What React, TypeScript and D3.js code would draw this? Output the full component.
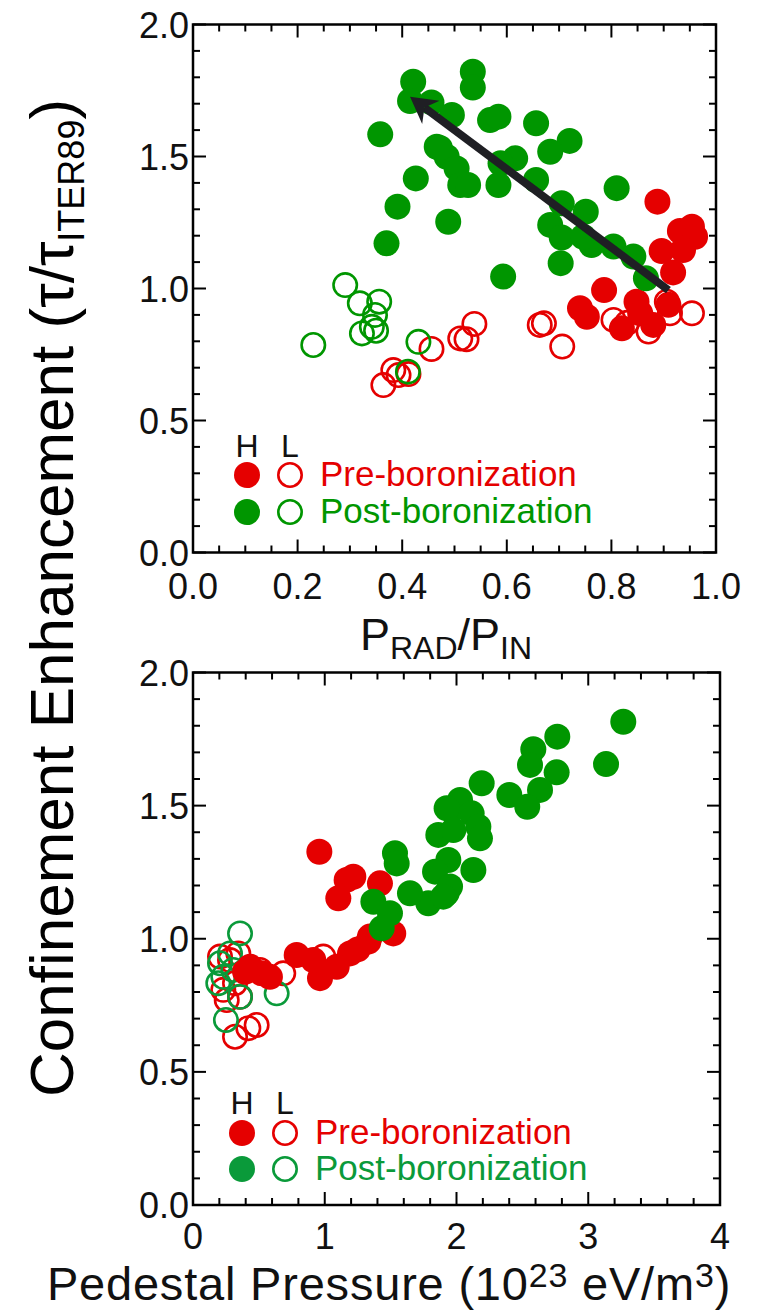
import React from "react";
import * as d3 from "d3";

// ---------- data ----------
// Top panel: x = P_RAD/P_IN, y = tau/tau_ITER89
const topPreH: [number, number][] = [
  [0.888, 1.329], [0.931, 1.218], [0.954, 1.234], [0.96, 1.196], [0.896, 1.142],
  [0.937, 1.146], [0.918, 1.061], [0.786, 0.994], [0.74, 0.925], [0.753, 0.893],
  [0.848, 0.95], [0.82, 0.849], [0.88, 0.862], [0.909, 0.938], [0.855, 0.906],
];
const topPreL: [number, number][] = [
  [0.511, 0.811], [0.523, 0.808], [0.538, 0.866], [0.671, 0.868], [0.663, 0.862],
  [0.706, 0.78], [0.804, 0.881], [0.871, 0.837], [0.912, 0.906], [0.954, 0.906],
  [0.906, 0.95], [0.456, 0.771], [0.364, 0.634], [0.383, 0.691], [0.393, 0.672],
  [0.412, 0.676], [0.83, 0.87],
];
const topPostH: [number, number][] = [
  [0.421, 1.783], [0.415, 1.71], [0.456, 1.705], [0.495, 1.657], [0.358, 1.584],
  [0.466, 1.537], [0.485, 1.499], [0.504, 1.455], [0.511, 1.392], [0.426, 1.417],
  [0.391, 1.31], [0.488, 1.253], [0.37, 1.171], [0.535, 1.821], [0.535, 1.761],
  [0.568, 1.638], [0.584, 1.651], [0.656, 1.626], [0.72, 1.559], [0.683, 1.518],
  [0.616, 1.493], [0.588, 1.474], [0.472, 1.532], [0.526, 1.392], [0.584, 1.392],
  [0.656, 1.411], [0.593, 1.045], [0.81, 1.38], [0.705, 1.323], [0.751, 1.291],
  [0.683, 1.241], [0.705, 1.193], [0.762, 1.165], [0.804, 1.159], [0.842, 1.121],
  [0.746, 1.196], [0.703, 1.096], [0.866, 1.039],
];
const topPostL: [number, number][] = [
  [0.291, 1.013], [0.23, 0.786], [0.319, 0.944], [0.356, 0.95], [0.348, 0.9],
  [0.342, 0.855], [0.323, 0.83], [0.35, 0.84], [0.431, 0.798], [0.411, 0.685],
];
const arrowFrom: [number, number] = [0.909, 0.994];
const arrowTo: [number, number] = [0.415, 1.726];

// Bottom panel: x = pedestal pressure (1e23 eV/m^3), y = tau/tau_ITER89
const botPreH: [number, number][] = [
  [0.959, 1.327], [1.166, 1.221], [1.217, 1.233], [1.103, 1.152], [1.419, 1.208],
  [1.343, 1.008], [1.52, 1.02], [1.331, 0.989], [1.192, 0.945], [1.091, 0.895],
  [0.964, 0.852], [0.913, 0.92], [0.787, 0.939], [0.584, 0.857], [0.521, 0.87],
  [0.433, 0.895], [0.395, 0.876], [1.25, 0.96],
];
const botPreL: [number, number][] = [
  [0.989, 0.933], [0.685, 0.87], [0.483, 0.676], [0.42, 0.664], [0.319, 0.632],
  [0.256, 0.77], [0.23, 0.808], [0.281, 0.92], [0.344, 0.945], [0.205, 0.933],
  [0.319, 0.833], [0.357, 0.782], [0.509, 0.883],
];
const botPostH: [number, number][] = [
  [2.001, 1.496], [1.862, 1.39], [1.938, 1.296], [1.837, 1.252], [1.925, 1.171],
  [1.786, 1.133], [1.647, 1.171], [1.533, 1.321], [1.546, 1.283], [1.369, 1.139],
  [1.495, 1.096], [1.432, 1.039], [3.266, 1.815], [3.135, 1.656], [2.765, 1.759],
  [2.583, 1.712], [2.558, 1.653], [2.76, 1.625], [2.634, 1.559], [2.401, 1.54],
  [2.537, 1.496], [2.191, 1.584], [2.027, 1.521], [2.115, 1.471], [1.925, 1.49],
  [2.166, 1.421], [2.178, 1.377], [1.976, 1.408], [2.128, 1.258], [1.951, 1.196],
  [1.9, 1.158],
];
const botPostL: [number, number][] = [
  [0.357, 1.02], [0.281, 0.945], [0.205, 0.908], [0.23, 0.857], [0.192, 0.833],
  [0.357, 0.782], [0.635, 0.795], [0.25, 0.695], [0.306, 0.883],
];

const yTickLabels = ["0.0", "0.5", "1.0", "1.5", "2.0"];
const topXTickLabels = ["0.0", "0.2", "0.4", "0.6", "0.8", "1.0"];
const botXTickLabels = ["0", "1", "2", "3", "4"];
const legendLabels = ["Pre-boronization", "Post-boronization"];

// ---------- style ----------
const RED = "#e50000";
const GREEN = "#009600";
const GREEN2 = "#0a9a3a";
const FONT = "'Liberation Sans', Arial, Helvetica, sans-serif";
const R = 13;

type Panel = {
  x0: number; x1: number; yTop: number; yBot: number;
  xDomain: [number, number]; xMajor: number; xMinor: number;
  xLabels: string[]; xLabelOffset: number;
};

function Frame({ p, xs, ys }: { p: Panel; xs: d3.ScaleLinear<number, number>; ys: d3.ScaleLinear<number, number> }) {
  const ticks: JSX.Element[] = [];
  const nX = Math.round((p.xDomain[1] - p.xDomain[0]) / p.xMinor);
  const ratio = Math.round(p.xMajor / p.xMinor);
  for (let i = 0; i <= nX; i++) {
    const v = p.xDomain[0] + i * p.xMinor;
    const L = i % ratio === 0 ? 13 : 7;
    const x = xs(v);
    ticks.push(<line key={"xb" + i} x1={x} x2={x} y1={p.yBot} y2={p.yBot - L} />);
    ticks.push(<line key={"xt" + i} x1={x} x2={x} y1={p.yTop} y2={p.yTop + L} />);
  }
  for (let i = 0; i <= 20; i++) {
    const v = i * 0.1;
    const L = i % 5 === 0 ? 13 : 7;
    const y = ys(v);
    ticks.push(<line key={"yl" + i} x1={p.x0} x2={p.x0 + L} y1={y} y2={y} />);
    ticks.push(<line key={"yr" + i} x1={p.x1} x2={p.x1 - L} y1={y} y2={y} />);
  }
  return (
    <g>
      <g stroke="#000" strokeWidth={2}>{ticks}</g>
      <rect x={p.x0} y={p.yTop} width={p.x1 - p.x0} height={p.yBot - p.yTop} fill="none" stroke="#000" strokeWidth={2.5} />
      <g fontFamily={FONT} fontSize={36} fill="#111">
        {yTickLabels.map((t, i) => (
          <text key={t} x={p.x0 - 4} y={ys(i * 0.5) + 13} textAnchor="end">{t}</text>
        ))}
        {p.xLabels.map((t, i) => (
          <text key={t} x={xs(p.xDomain[0] + i * p.xMajor)} y={p.yBot + p.xLabelOffset} textAnchor="middle">{t}</text>
        ))}
      </g>
    </g>
  );
}

function Dots({ data, xs, ys, color, filled }: { data: [number, number][]; xs: any; ys: any; color: string; filled: boolean }) {
  return (
    <g>
      {data.map((d, i) =>
        filled ? (
          <circle key={i} cx={xs(d[0])} cy={ys(d[1])} r={R} fill={color} />
        ) : (
          <circle key={i} cx={xs(d[0])} cy={ys(d[1])} r={R - 1.3} fill="none" stroke={color} strokeWidth={2.6} />
        )
      )}
    </g>
  );
}

function Legend({ x, yH, y1, y2, green }: { x: number; yH: number; y1: number; y2: number; green: string }) {
  return (
    <g fontFamily={FONT} fontSize={35}>
      <text x={x} y={yH} textAnchor="middle" fill="#111" fontSize={32}>H</text>
      <text x={x + 43} y={yH} textAnchor="middle" fill="#111" fontSize={32}>L</text>
      <circle cx={x} cy={y1} r={R} fill={RED} />
      <circle cx={x + 43} cy={y1} r={R - 1.3} fill="none" stroke={RED} strokeWidth={2.6} />
      <circle cx={x} cy={y2} r={R} fill={green} />
      <circle cx={x + 43} cy={y2} r={R - 1.3} fill="none" stroke={green} strokeWidth={2.6} />
      <text x={x + 73} y={y1 + 11} fill={RED}>{legendLabels[0]}</text>
      <text x={x + 73} y={y2 + 11} fill={green}>{legendLabels[1]}</text>
    </g>
  );
}

export default function App() {
  const top: Panel = {
    x0: 193, x1: 716, yTop: 24.5, yBot: 552.5,
    xDomain: [0, 1], xMajor: 0.2, xMinor: 0.05, xLabels: topXTickLabels, xLabelOffset: 46,
  };
  const bot: Panel = {
    x0: 193, x1: 720, yTop: 672.5, yBot: 1205,
    xDomain: [0, 4], xMajor: 1, xMinor: 0.2, xLabels: botXTickLabels, xLabelOffset: 44,
  };
  const xsT = d3.scaleLinear().domain(top.xDomain).range([top.x0, top.x1]);
  const ysT = d3.scaleLinear().domain([0, 2]).range([top.yBot, top.yTop]);
  const xsB = d3.scaleLinear().domain(bot.xDomain).range([bot.x0, bot.x1]);
  const ysB = d3.scaleLinear().domain([0, 2]).range([bot.yBot, bot.yTop]);

  // arrow
  const ax0 = xsT(arrowFrom[0]), ay0 = ysT(arrowFrom[1]);
  const ax1 = xsT(arrowTo[0]), ay1 = ysT(arrowTo[1]);
  const len = Math.hypot(ax1 - ax0, ay1 - ay0);
  const ux = (ax1 - ax0) / len, uy = (ay1 - ay0) / len;
  const nx = -uy, ny = ux;
  const headL = 26, headW = 14.5, notch = 18;
  const bx = ax1 - ux * headL, by = ay1 - uy * headL;
  const head = [
    [ax1, ay1],
    [bx + nx * headW, by + ny * headW],
    [ax1 - ux * notch, ay1 - uy * notch],
    [bx - nx * headW, by - ny * headW],
  ].map((p) => p.join(",")).join(" ");

  return (
    <svg width={760} height={1312} style={{ position: "absolute", left: 0, top: 0, background: "#fff" }}>
      <rect x={0} y={0} width={760} height={1312} fill="#fff" />
      {/* top panel */}
      <Dots data={topPreL} xs={xsT} ys={ysT} color={RED} filled={false} />
      <Dots data={topPostL} xs={xsT} ys={ysT} color={GREEN} filled={false} />
      <Dots data={topPreH} xs={xsT} ys={ysT} color={RED} filled={true} />
      <Dots data={topPostH} xs={xsT} ys={ysT} color={GREEN} filled={true} />
      <line x1={ax0} y1={ay0} x2={ax1 - ux * notch} y2={ay1 - uy * notch} stroke="#1f1f24" strokeWidth={8} />
      <polygon points={head} fill="#1f1f24" />
      <Frame p={top} xs={xsT} ys={ysT} />
      <Legend x={247} yH={457} y1={475} y2={512} green={GREEN} />
      <text x={446} y={650} textAnchor="middle" fontFamily={FONT} fontSize={45} fill="#111">
        P<tspan fontSize={32} dy={9}>RAD</tspan><tspan dy={-9}>/P</tspan><tspan fontSize={32} dy={9}>IN</tspan>
      </text>

      {/* bottom panel */}
      <Dots data={botPreL} xs={xsB} ys={ysB} color={RED} filled={false} />
      <Dots data={botPostL} xs={xsB} ys={ysB} color={GREEN2} filled={false} />
      <Dots data={botPreH} xs={xsB} ys={ysB} color={RED} filled={true} />
      <Dots data={botPostH} xs={xsB} ys={ysB} color={GREEN} filled={true} />
      <Frame p={bot} xs={xsB} ys={ysB} />
      <Legend x={242} yH={1114} y1={1133} y2={1169} green={GREEN2} />
      <text x={389} y={1300} textAnchor="middle" fontFamily={FONT} fontSize={47} letterSpacing={0.8} fill="#111">
        Pedestal Pressure (10<tspan fontSize={34} dy={-13}>23</tspan><tspan dy={13}> eV/m</tspan><tspan fontSize={34} dy={-13}>3</tspan><tspan dy={13}>)</tspan>
      </text>

      {/* shared y title */}
      <text transform="translate(73,598) rotate(-90)" textAnchor="middle" fontFamily={FONT} fontSize={62} fill="#000">
        Confinement Enhancement (τ/τ<tspan fontSize={36} dy={11}>ITER89</tspan><tspan dy={-11}>)</tspan>
      </text>
    </svg>
  );
}
